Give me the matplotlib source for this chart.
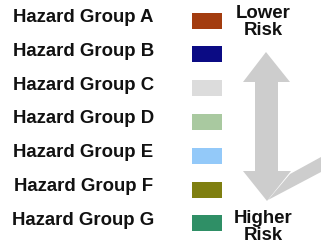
import matplotlib
matplotlib.use("Agg")
import matplotlib.pyplot as plt
from matplotlib.patches import Polygon

groups = ["Hazard Group A", "Hazard Group B", "Hazard Group C", "Hazard Group D",
          "Hazard Group E", "Hazard Group F", "Hazard Group G"]
colors = ["#a33c0f", "#0b0b84", "#dcdcdc", "#a9c9a0", "#93c9f9", "#7f7f10", "#2f8f66"]
top_label = "Lower\nRisk"
bottom_label = "Higher\nRisk"

W, H = 321, 251
fig = plt.figure(figsize=(W / 100, H / 100), dpi=100)
ax = fig.add_axes([0, 0, 1, 1])
ax.set_xlim(0, W)
ax.set_ylim(H, 0)
ax.axis("off")

row0, step = 17.5, 33.8
ys = [row0 + i * step for i in range(len(groups))]
font = dict(family=["Liberation Sans", "DejaVu Sans"], fontweight="bold", color="#111111")

for y, g in zip(ys, groups):
    ax.text(83.5, y, g, ha="center", va="center", fontsize=13.4, **font)

ax.barh([y + 4 for y in ys], [30] * len(ys), left=192, height=16, color=colors)

# arrow
gray = "#cdcdcd"
arrow = [(266, 53), (290, 83), (278, 83), (278, 172), (291, 172),
         (267, 202), (243, 172), (255, 172), (255, 83), (243, 83)]
ax.add_patch(Polygon(arrow, closed=True, facecolor=gray, edgecolor="none"))
swoosh = [(290, 175), (321, 158), (321, 173), (268, 201)]
ax.add_patch(Polygon(swoosh, closed=True, facecolor=gray, edgecolor="none"))

ax.text(263, 22, top_label, ha="center", va="center", fontsize=13.4, linespacing=1.05, **font)
ax.text(263, 227, bottom_label, ha="center", va="center", fontsize=13.4, linespacing=1.05, **font)

fig.savefig("out.png", dpi=100)
